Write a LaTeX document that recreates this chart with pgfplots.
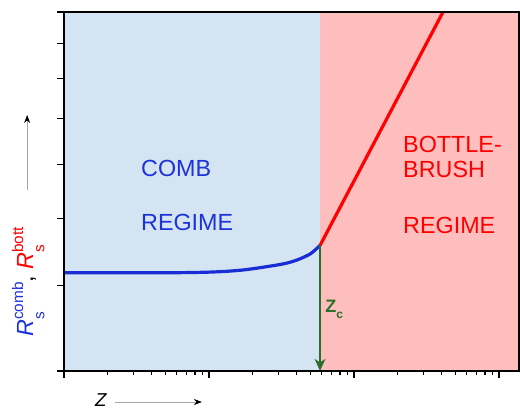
\documentclass[border=0pt]{standalone}
\usepackage{pgfplots}
\pgfplotsset{compat=1.18}
\usetikzlibrary{arrows.meta}
\usepackage{fontspec}
\setmainfont{Liberation Sans}
\definecolor{regblue}{RGB}{213,228,243}
\definecolor{regpink}{RGB}{255,190,190}
\definecolor{lineblue}{RGB}{25,45,215}
\definecolor{txtblue}{RGB}{30,50,220}
\definecolor{zcgreen}{RGB}{45,110,40}
\newcommand{\Rlab}[1]{\textit{R}\rlap{\raisebox{-8.5pt}{\fontsize{11.5}{12}\selectfont s}}\raisebox{7.5pt}{\fontsize{11.5}{12}\selectfont #1}}

\begin{document}
\begin{tikzpicture}
\begin{axis}[
    scale only axis,
    width=341.25pt, height=269.25pt,
    xmode=log, ymode=log,
    xmin=1, xmax=1374,
    ymin=3, ymax=10,
    axis on top,
    xtick={1,10,100,1000}, xticklabels={},
    ytick={3,4,5,6,7,8,9,10}, yticklabels={},
    tick align=outside,
    tick pos=left,
    major tick length=5pt, minor tick length=3pt,
    axis line style={line width=0.9pt},
    every tick/.style={black, line width=0.9pt},
    clip=false,
]
% regimes
\fill[regblue] (axis cs:1,3) rectangle (axis cs:58.3,10);
\fill[regpink] (axis cs:58.3,3) rectangle (axis cs:1374,10);

% comb regime
\addplot[lineblue, line width=2.4pt, smooth] coordinates
{(1,4.17) (4.6,4.17) (10.2,4.18) (17.2,4.21) (29.4,4.28) (36.2,4.32) (42.4,4.37) (49.7,4.44) (53.8,4.50) (58.3,4.57)};
% bottle-brush regime
\addplot[red, line width=2.4pt] coordinates
{(58.3,4.57) (411,10)};
% Z_c
\addplot[zcgreen, line width=1.5pt, -{Stealth[length=9pt,width=8pt,inset=2.5pt]}] coordinates
{(58.3,4.57) (58.3,3)};

\node[anchor=base west, inner sep=0, font=\fontsize{17.5}{20}\selectfont, text=txtblue] at (rel axis cs:0.169,0.543) {COMB};
\node[anchor=base west, inner sep=0, font=\fontsize{17.5}{20}\selectfont, text=txtblue] at (rel axis cs:0.169,0.391) {REGIME};
\node[anchor=base west, inner sep=0, font=\fontsize{17.5}{20}\selectfont, text=red] at (rel axis cs:0.745,0.610) {BOTTLE-};
\node[anchor=base west, inner sep=0, font=\fontsize{17.5}{20}\selectfont, text=red] at (rel axis cs:0.745,0.5376) {BRUSH};
\node[anchor=base west, inner sep=0, font=\fontsize{17.5}{20}\selectfont, text=red] at (rel axis cs:0.745,0.384) {REGIME};

\node[anchor=base west, inner sep=0, text=zcgreen, font=\fontsize{13.5}{15}\selectfont\bfseries] at (rel axis cs:0.5736,0.1616) {Z\raisebox{-4pt}{\fontsize{9}{10}\selectfont c}};

% axis labels
\node[anchor=base west, inner sep=0, rotate=90, font=\fontsize{17.5}{20}\selectfont] at (rel axis cs:-0.068,0.0947)
  {\color{txtblue}\Rlab{comb}\color{black}, \color{red}\Rlab{bott}};
\draw[gray!70, line width=0.5pt, -{Stealth[color=black,length=6pt,width=4.5pt]}] (rel axis cs:-0.081,0.504) -- (rel axis cs:-0.081,0.713);
\node[anchor=base west, inner sep=0, font=\fontsize{14}{16}\selectfont\itshape] at (rel axis cs:0.068,-0.098) {Z};
\draw[gray!70, line width=0.5pt, -{Stealth[color=black,length=6pt,width=4.5pt]}] (rel axis cs:0.112,-0.0864) -- (rel axis cs:0.303,-0.0864);
\end{axis}
\pgfresetboundingbox
\path ([shift={(-48pt,-29.25pt)}]current axis.south west) rectangle ([shift={(0.75pt,9pt)}]current axis.north east);
\end{tikzpicture}
\end{document}
